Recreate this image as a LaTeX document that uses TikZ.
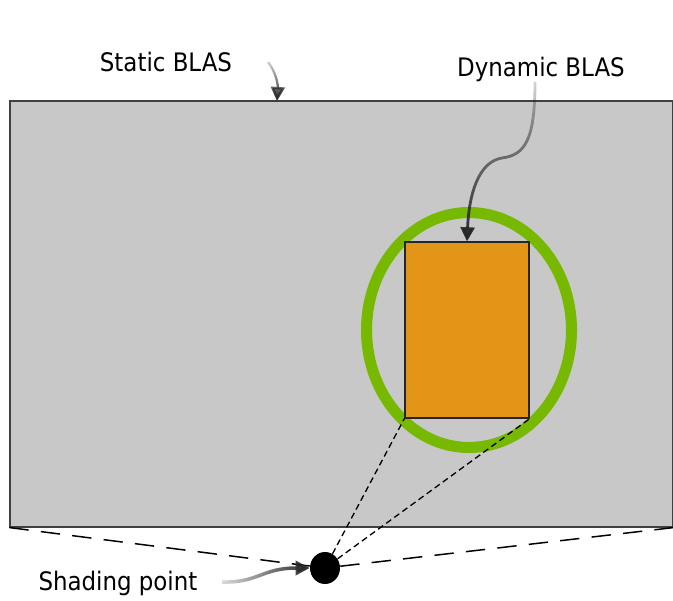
\documentclass[tikz,border=0pt]{standalone}
\usepackage{fontspec}
\setmainfont{DejaVu Sans Condensed}
\usepackage{tikz}
\usetikzlibrary{arrows.meta,positioning,shapes.geometric,fadings}
\definecolor{blasgray}{RGB}{200,200,200}
\definecolor{blasorange}{RGB}{227,149,24}
\definecolor{blasgreen}{RGB}{118,185,0}
\tikzfading[name=fadeup, top color=transparent!80, bottom color=transparent!0]
\tikzfading[name=fadeleft, left color=transparent!85, right color=transparent!0]

\begin{document}
\begin{tikzpicture}[x=0.02cm, y=-0.02cm,
    lbl/.style={font=\fontsize{14.5}{17}\selectfont, inner sep=0pt, anchor=base},
    pointer/.style={line width=1.6pt, draw=black!85, -{Triangle[length=8pt,width=8pt]}},
    longdash/.style={line width=0.85pt, dash pattern=on 11pt off 7pt},
    shortdash/.style={line width=0.75pt, dash pattern=on 3.5pt off 2.2pt}]
    \useasboundingbox (0,0) rectangle (673,601);

    % static BLAS box
    \node[draw=black!75, line width=0.7pt, fill=blasgray, inner sep=0pt,
          minimum width=13.26cm, minimum height=8.52cm] (static) at (341.5,314) {};

    % shading point
    \node[ellipse, fill=black, inner sep=0pt,
          minimum width=0.6cm, minimum height=0.64cm] (dot) at (325,568) {};

    % view lines
    \draw[longdash] (static.south west) -- (dot);
    \draw[longdash] (dot) -- (static.south east);

    % dynamic BLAS with its bound
    \node[ellipse, draw=blasgreen, line width=6.3pt, inner sep=0pt,
          minimum width=4.1cm, minimum height=4.7cm] (ring) at (469,330) {};
    \node[draw=black!85, line width=0.8pt, fill=blasorange, inner sep=0pt,
          minimum width=2.48cm, minimum height=3.52cm] (dyn) at (467,330) {};
    \draw[shortdash] (dot) -- (dyn.south west);
    \draw[shortdash] (dot) -- (dyn.south east);

    % labels
    \node[lbl] (statlbl) at (166,72) {Static BLAS};
    \node[lbl] (dynlbl) at (541,77) {Dynamic BLAS};
    \node[lbl] (shadelbl) at (118,590) {Shading point};

    % pointers
    \coordinate (statstart) at (268,62);
    \coordinate (statend) at (277,101);
    \coordinate (dynstart) at (535,82);
    \coordinate (shadestart) at (222,582);
    \draw[pointer, line width=1.3pt, path fading=fadeup]
        (statstart) .. controls (276,72) and (278,85) .. (statend);
    \draw[pointer, path fading=fadeup]
        (dynstart) .. controls (535,140) and (525,155) .. (502,158)
        .. controls (478,162) and (469,195) .. (dyn.north);
    \draw[pointer, line width=2pt, path fading=fadeleft]
        (shadestart) .. controls (258,583) and (262,568) .. (dot.west);
\end{tikzpicture}
\end{document}
